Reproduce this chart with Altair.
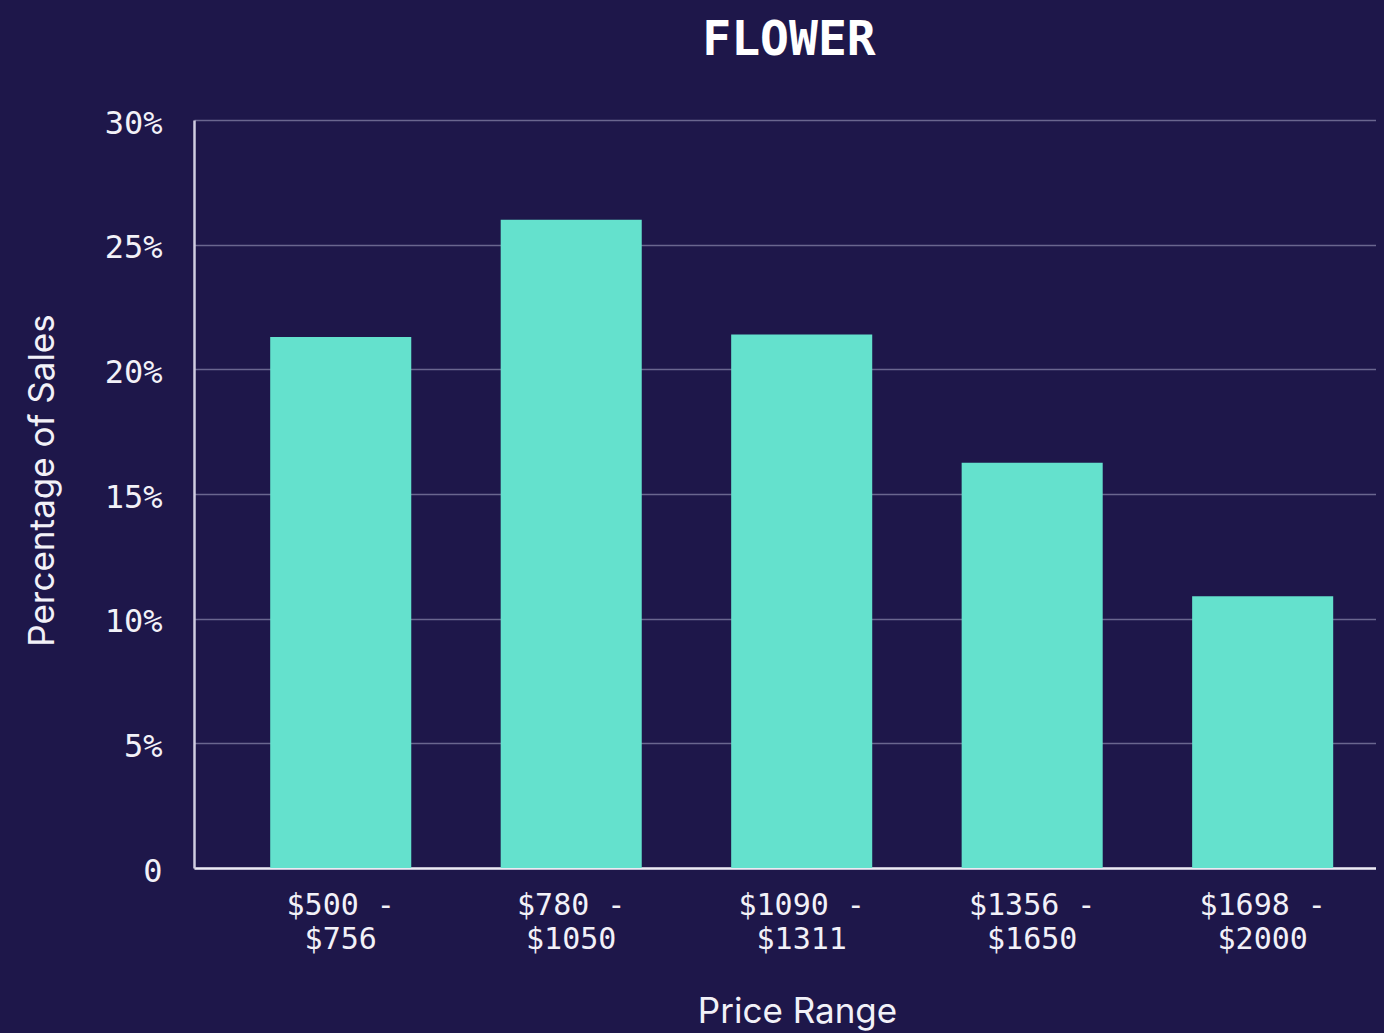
import altair as alt
import pandas as pd

categories = ["$500 - $756", "$780 - $1050", "$1090 - $1311", "$1356 - $1650", "$1698 - $2000"]
values = [21.3, 26.0, 21.4, 16.25, 10.9]
y_ticks = [0, 5, 10, 15, 20, 25, 30]

BG = "#1e174a"
BAR = "#64e1cd"
TEXT = "#f2f1f8"
MONO = "DejaVu Sans Mono"
SANS = "Inter"

# page styling: dark page background, no scrollbars, keep the SVG at its own size
try:
    import altair.utils.html as _ah

    _std = _ah.TEMPLATES["standard"]

    class _Tpl:
        def render(self, *a, **kw):
            html = _std.render(*a, **kw)
            css = ("<style>html,body{background:%s;overflow:hidden}"
                   ".vega-embed svg{flex-shrink:0}</style>" % BG)
            return html.replace("</head>", css + "</head>", 1)

    _ah.TEMPLATES["standard"] = _Tpl()
except Exception:
    pass

df = pd.DataFrame({"range": categories, "pct": values})

chart = (
    alt.Chart(df)
    .mark_bar(color=BAR)
    .encode(
        x=alt.X(
            "range:N",
            sort=categories,
            title="Price Range",
            scale=alt.Scale(paddingInner=0.388, paddingOuter=0.2755, align=0.6),
            axis=alt.Axis(
                labelAngle=0,
                labelFont=MONO,
                labelFontSize=30,
                labelColor=TEXT,
                labelLineHeight=34,
                labelBaseline="top",
                labelPadding=22,
                labelExpr="[split(datum.label, ' - ')[0] + ' -', split(datum.label, ' - ')[1]]",
                ticks=False,
                domainColor="#ecebf4",
                domainWidth=2.5,
                titleFont=SANS,
                titleFontSize=35,
                titleFontWeight="normal",
                titleColor=TEXT,
                titleBaseline="alphabetic",
                titleX=603,
                titleY=154,
            ),
        ),
        y=alt.Y(
            "pct:Q",
            title="Percentage of Sales",
            scale=alt.Scale(domain=[0, 30], nice=False),
            axis=alt.Axis(
                values=y_ticks,
                labelExpr="datum.value == 0 ? '0' : datum.value + '%'",
                labelFont=MONO,
                labelFontSize=32,
                labelColor=TEXT,
                labelPadding=32,
                labelOffset=3,
                ticks=False,
                domainColor="#cfcde0",
                domainWidth=2.5,
                grid=True,
                gridColor="#6a668f",
                gridWidth=1.5,
                titleFont=SANS,
                titleFontSize=35,
                titleFontWeight="normal",
                titleColor=TEXT,
                titleBaseline="bottom",
                titleX=-134,
                titleY=360,
            ),
        ),
    )
    .properties(
        width=1190,
        height=748,
        autosize=alt.AutoSizeParams(type="none"),
        padding={"left": 186, "top": 112, "right": 0, "bottom": 165},
        background=BG,
        title=alt.TitleParams(
            text="FLOWER",
            font=MONO,
            fontSize=48,
            fontWeight="bold",
            color="#ffffff",
            anchor="middle",
            frame="group",
            baseline="alphabetic",
            offset=4,
        ),
    )
    .configure_view(stroke=None)
)

chart.save("out.html", embed_options={"renderer": "svg", "actions": False})
